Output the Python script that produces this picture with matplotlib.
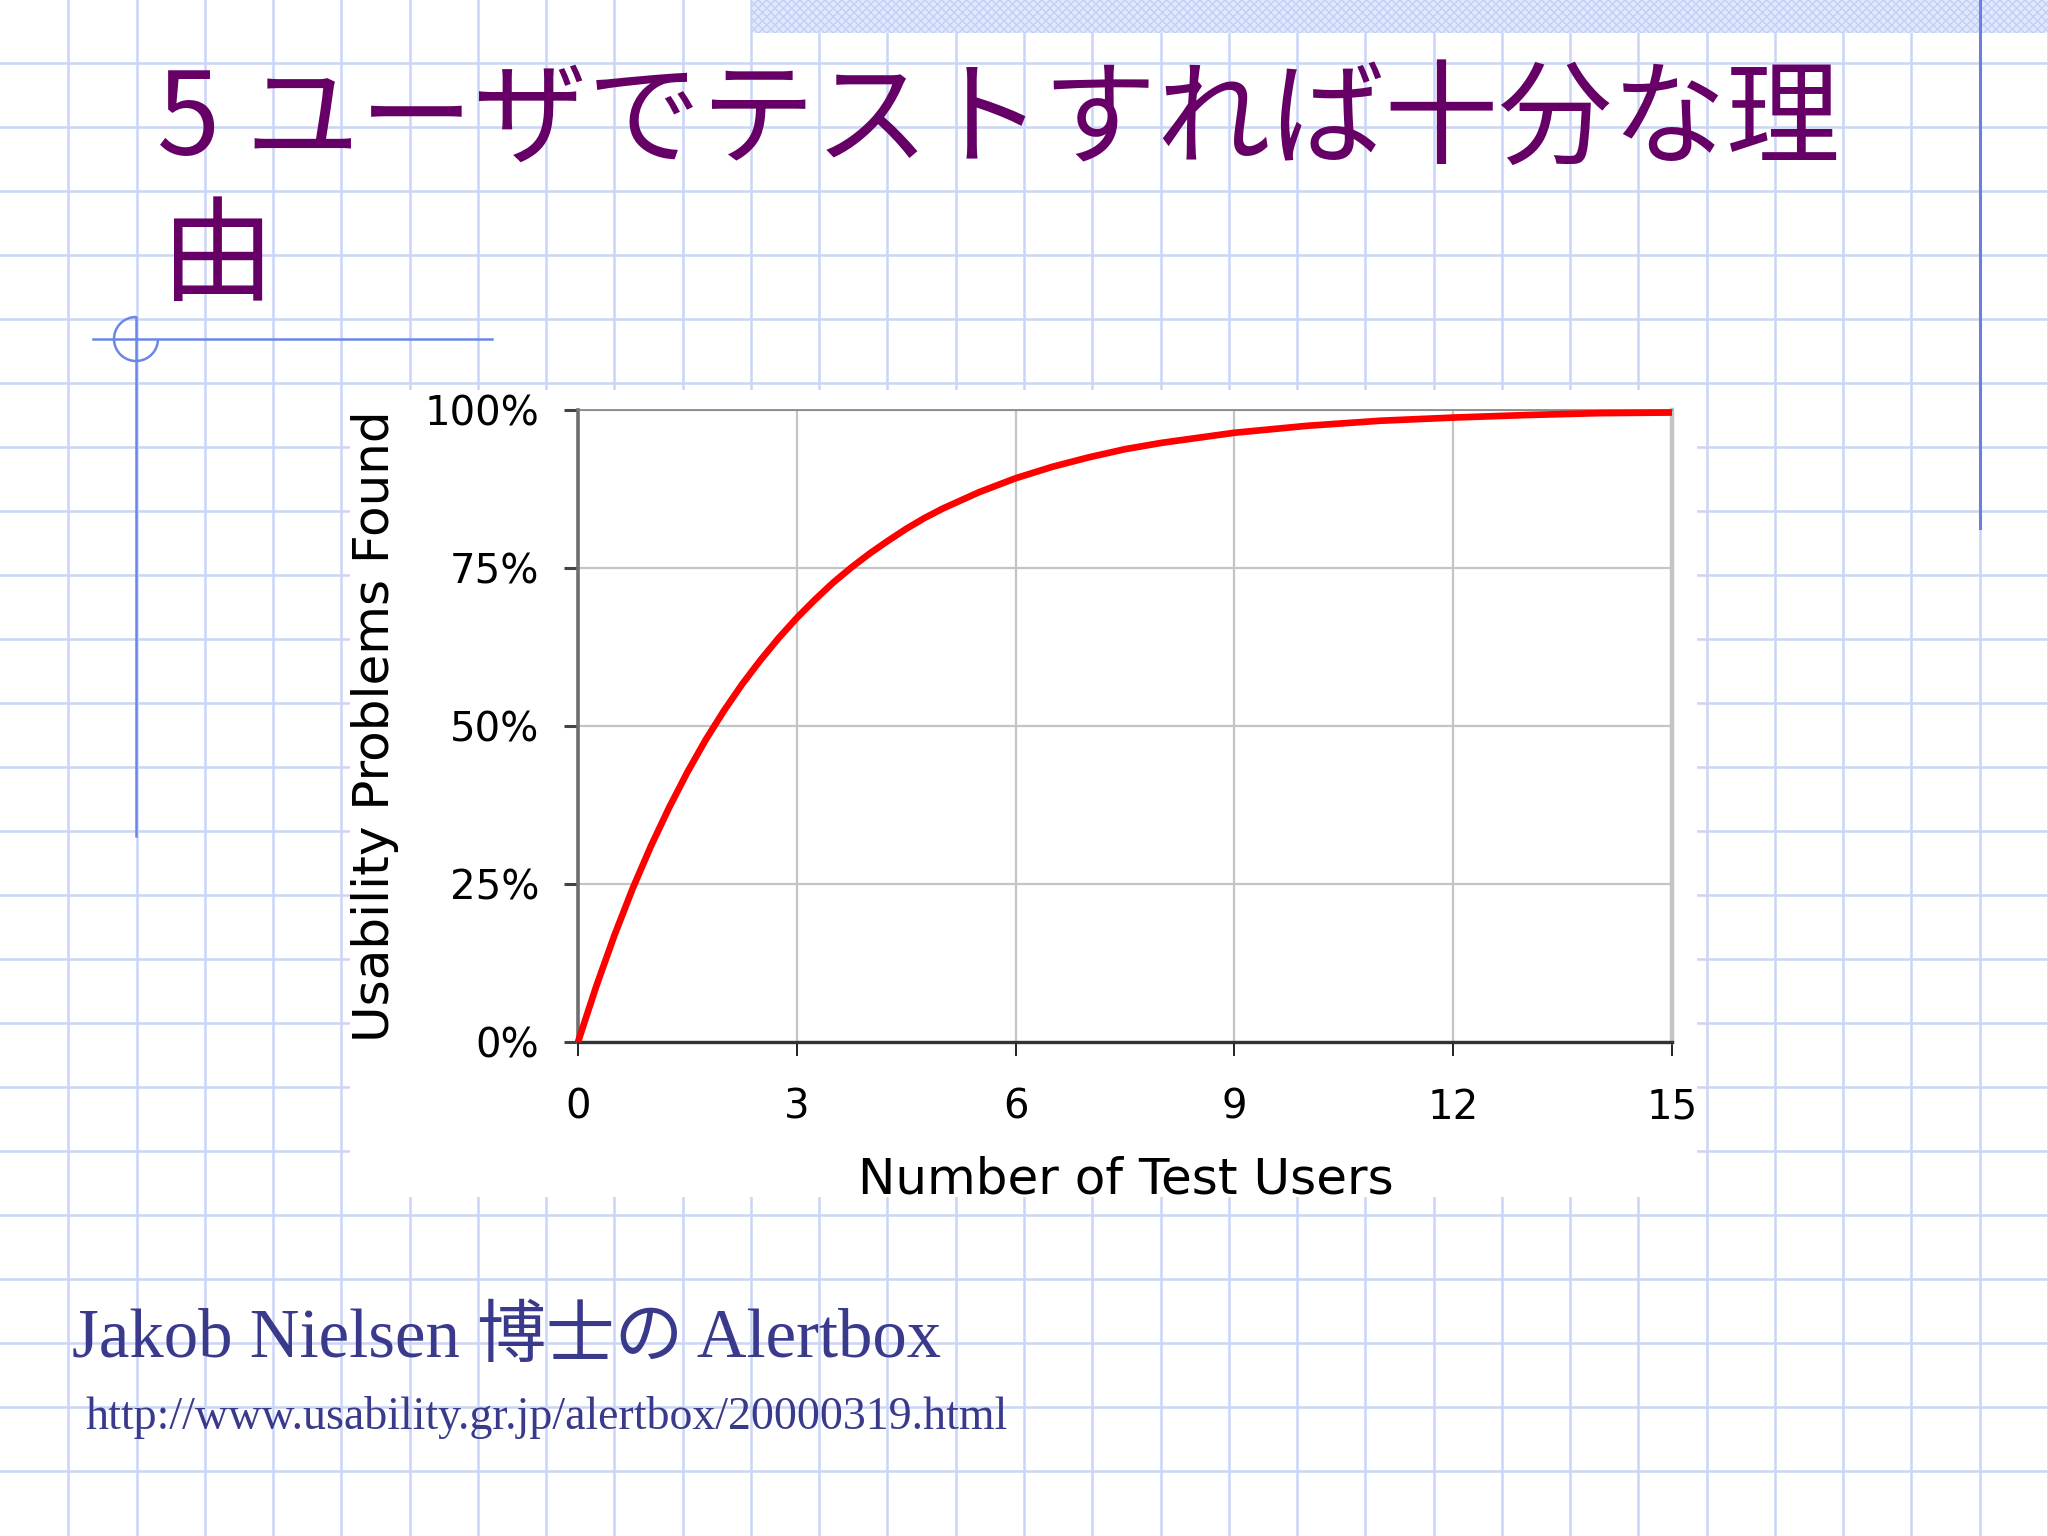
import numpy as np
import matplotlib
matplotlib.use("Agg")
import matplotlib.pyplot as plt
from matplotlib.patches import Rectangle, Arc

# Data (percent of usability problems found)
test_users = [0, 0.25, 0.5, 0.75, 1, 1.25, 1.5, 1.75, 2, 2.25, 2.5, 2.75,
              3, 3.25, 3.5, 3.75, 4, 4.25, 4.5, 4.75, 5, 5.5, 6, 6.5,
              7, 7.5, 8, 9, 10, 11, 12, 13, 14, 15]
problems_found = [0, 8.8, 16.9, 24.3, 31, 37.1, 42.7, 47.8, 52.4, 56.6, 60.4, 63.9,
                  67.1, 70, 72.7, 75.1, 77.3, 79.3, 81.2, 82.9, 84.4, 87.0, 89.2, 91.0,
                  92.5, 93.8, 94.8, 96.4, 97.5, 98.3, 98.8, 99.2, 99.5, 99.6]
x_ticks = [0, 3, 6, 9, 12, 15]
y_ticks = [0, 25, 50, 75, 100]
y_ticklabels = ["0%", "25%", "50%", "75%", "100%"]

title_line1 = "5 ユーザでテストすれば十分な理"
title_line2 = "由"
footer_line1 = "Jakob Nielsen 博士の Alertbox"
footer_line2 = "http://www.usability.gr.jp/alertbox/20000319.html"

W, H = 2048, 1536
fig = plt.figure(figsize=(W / 100, H / 100), dpi=100)
fig.patch.set_facecolor("white")

# Slide background in pixel coordinates
bg = fig.add_axes([0, 0, 1, 1])
bg.set_xlim(0, W)
bg.set_ylim(H, 0)
bg.axis("off")

grid_col = "#cbd5f7"
for k in range(1, 31):
    bg.plot([k * W / 30, k * W / 30], [0, H], color=grid_col, lw=1.8, zorder=1)
for k in range(1, 24):
    bg.plot([0, W], [k * 64 - 1, k * 64 - 1], color=grid_col, lw=1.8, zorder=1)

# checkered band at top right
bg.add_patch(Rectangle((752, 0), W - 752, 33, facecolor="#e2e8fc", edgecolor="#c3cff6",
                       hatch="xxxx", lw=0, zorder=2))

# white box behind the chart image
bg.add_patch(Rectangle((350, 390), 1697 - 350, 1197 - 390, facecolor="white",
                       edgecolor="none", zorder=3))

# decorations
deco = "#6b87e6"
bg.plot([1980, 1980], [0, 528], color="#6a80de", lw=2.2, zorder=4)
bg.plot([93, 492], [339, 339], color=deco, lw=1.8, zorder=4)
bg.plot([136, 136], [317, 836], color=deco, lw=1.8, zorder=4)
bg.add_patch(Arc((136, 339), 44, 44, theta1=0, theta2=270, color=deco, lw=1.8, zorder=4))

# title
title_col = "#660066"
bg.text(157, 155, title_line1, fontsize=82, color=title_col, family=["Noto Sans CJK JP"],
        va="baseline", ha="left", zorder=5)
bg.text(160, 292, title_line2, fontsize=82, color=title_col, family=["Noto Sans CJK JP"],
        va="baseline", ha="left", zorder=5)

# footer
foot_col = "#3a3a8c"
bg.text(72, 1357, footer_line1, fontsize=49.5, color=foot_col,
        family=["Liberation Serif", "Noto Sans CJK JP"], va="baseline", ha="left", zorder=5)
bg.text(86, 1429, footer_line2, fontsize=33, color=foot_col,
        family=["Liberation Serif"], va="baseline", ha="left", zorder=5)

# chart
left, right, top, bottom = 578, 1672, 410, 1042
ax = fig.add_axes([left / W, 1 - bottom / H, (right - left) / W, (bottom - top) / H])
ax.set_facecolor("white")
ax.set_xlim(0, 15)
ax.set_ylim(0, 100)
ax.plot(test_users, problems_found, color="#ff0000", lw=4.8, clip_on=False, zorder=5,
        solid_capstyle="butt", solid_joinstyle="round")

ax.set_xticks(x_ticks)
ax.set_yticks(y_ticks)
ax.set_yticklabels(y_ticklabels)
ax.grid(True, color="#c4c4c4", lw=1.6)
ax.set_axisbelow(True)
ax.tick_params(axis="x", direction="out", length=10, width=1.4, color="#222222",
               labelsize=29, pad=23)
ax.tick_params(axis="y", direction="out", length=10, width=2.2, color="#444444",
               labelsize=29, pad=18)

ax.spines["left"].set_color("#6e6e6e")
ax.spines["left"].set_linewidth(2.6)
ax.spines["bottom"].set_color("#333333")
ax.spines["bottom"].set_linewidth(2.4)
ax.spines["top"].set_color("#808080")
ax.spines["top"].set_linewidth(1.2)
ax.spines["right"].set_color("#c4c4c4")
ax.spines["right"].set_linewidth(3.2)

ax.set_xlabel("Number of Test Users", fontsize=36)
ax.xaxis.set_label_coords(0.501, -0.18)
ax.set_ylabel("Usability Problems Found", fontsize=36)
ax.yaxis.set_label_coords(-0.164, 0.5)

fig.savefig("out.png", dpi=100)
